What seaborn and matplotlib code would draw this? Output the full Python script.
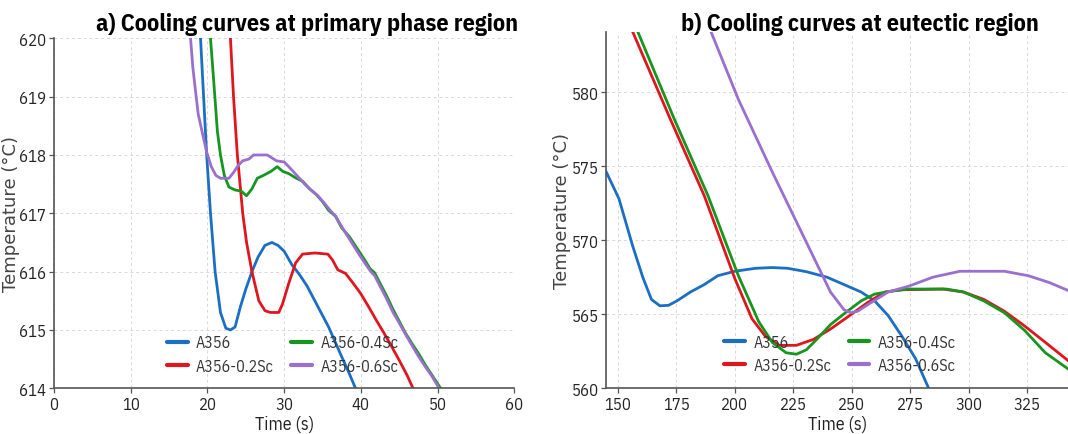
import numpy as np
import pandas as pd
import matplotlib
matplotlib.use("Agg")
import matplotlib.pyplot as plt
import seaborn as sns
from matplotlib import font_manager

# ---------------- data ----------------
series_names = ["A356", "A356-0.2Sc", "A356-0.4Sc", "A356-0.6Sc"]
series_colors = ["#1a6fc4", "#e0161e", "#17961f", "#9b6fcf"]

# Panel a) primary phase region
a_t_356 = [18.9, 19.1, 19.5, 19.9, 20.4, 21.0, 21.7, 22.4, 23.0, 23.6, 24.3, 25.0, 25.8, 26.6, 27.5, 28.4, 29.2, 30.0, 31.0, 32.0, 33.0, 34.2, 35.8, 37.3, 38.5, 39.3, 39.8]
a_T_356 = [620.6, 620.0, 619.0, 618.0, 617.0, 616.0, 615.3, 615.03, 615.0, 615.05, 615.4, 615.7, 616.0, 616.25, 616.45, 616.5, 616.45, 616.35, 616.12, 615.95, 615.75, 615.45, 615.05, 614.6, 614.25, 614.0, 613.8]

a_t_02 = [22.9, 23.0, 23.4, 23.9, 24.6, 25.1, 25.8, 26.7, 27.5, 28.2, 29.3, 29.8, 30.6, 31.5, 32.4, 34.0, 35.7, 36.3, 37.0, 38.0, 39.0, 40.0, 41.0, 42.0, 43.0, 44.0, 45.0, 46.0, 46.8, 47.2]
a_T_02 = [620.3, 620.0, 619.0, 618.0, 617.0, 616.5, 616.0, 615.5, 615.33, 615.3, 615.3, 615.45, 615.8, 616.15, 616.3, 616.32, 616.3, 616.2, 616.03, 615.97, 615.8, 615.62, 615.4, 615.17, 614.95, 614.72, 614.48, 614.23, 614.0, 613.9]

a_t_04 = [20.2, 20.4, 20.8, 21.3, 21.7, 22.2, 22.8, 23.6, 24.4, 25.1, 25.8, 26.5, 27.3, 28.3, 29.1, 29.8, 30.6, 31.6, 32.4, 33.3, 34.2, 35.0, 35.8, 36.7, 37.5, 38.5, 39.5, 40.5, 41.2, 41.8, 42.5, 43.3, 44.2, 45.0, 45.8, 46.6, 47.5, 48.4, 49.3, 50.4, 50.8]
a_T_04 = [620.5, 620.0, 619.3, 618.4, 618.0, 617.65, 617.45, 617.4, 617.38, 617.3, 617.42, 617.6, 617.65, 617.72, 617.8, 617.72, 617.68, 617.6, 617.55, 617.42, 617.32, 617.2, 617.05, 616.95, 616.75, 616.6, 616.4, 616.2, 616.05, 615.98, 615.8, 615.6, 615.35, 615.15, 614.95, 614.78, 614.6, 614.4, 614.22, 614.0, 613.9]

a_t_06 = [17.7, 17.8, 18.1, 18.4, 18.8, 19.3, 19.9, 20.5, 21.1, 21.7, 22.8, 23.4, 24.0, 24.6, 25.4, 26.0, 27.8, 28.4, 29.0, 30.0, 30.6, 31.3, 32.0, 32.7, 33.5, 34.4, 35.2, 36.0, 36.7, 37.6, 38.5, 39.5, 40.5, 41.3, 41.8, 42.5, 43.3, 44.2, 45.0, 45.8, 46.6, 47.5, 48.4, 49.3, 50.2, 50.6]
a_T_06 = [620.5, 620.0, 619.5, 619.15, 618.7, 618.4, 618.05, 617.8, 617.65, 617.6, 617.6, 617.7, 617.82, 617.9, 617.93, 618.0, 618.0, 617.95, 617.9, 617.88, 617.8, 617.7, 617.6, 617.5, 617.4, 617.3, 617.18, 617.05, 616.95, 616.75, 616.56, 616.35, 616.15, 616.0, 615.93, 615.75, 615.55, 615.3, 615.12, 614.93, 614.75, 614.55, 614.37, 614.2, 614.0, 613.9]

# Panel b) eutectic region
b_t_356 = [144.0, 145.3, 150.4, 156.3, 160.6, 164.3, 167.9, 171.6, 175.2, 181.0, 186.9, 192.7, 200.0, 208.8, 216.0, 222.6, 230.6, 239.4, 246.7, 254.0, 259.8, 265.6, 271.5, 277.3, 282.9, 284.0]
b_T_356 = [574.9, 574.5, 572.8, 569.6, 567.5, 566.0, 565.57, 565.6, 565.9, 566.5, 567.0, 567.6, 567.9, 568.1, 568.15, 568.1, 567.87, 567.5, 567.0, 566.5, 565.9, 564.9, 563.5, 562.0, 560.0, 559.6]

b_t_02 = [154.0, 156.3, 172.3, 186.9, 200.0, 207.3, 213.1, 219.0, 226.3, 233.6, 240.9, 248.1, 256.9, 264.2, 271.5, 289.0, 297.8, 306.5, 315.3, 324.0, 332.8, 342.7, 345.0]
b_T_02 = [584.9, 584.06, 578.2, 573.0, 567.4, 564.7, 563.5, 562.9, 562.9, 563.3, 564.0, 564.8, 565.8, 566.5, 566.65, 566.7, 566.5, 566.0, 565.2, 564.2, 563.1, 561.85, 561.5]

b_t_04 = [157.0, 158.5, 174.0, 188.5, 201.5, 210.2, 216.0, 221.9, 226.3, 230.6, 235.0, 240.9, 248.1, 254.0, 259.8, 268.6, 274.5, 290.5, 297.8, 306.5, 315.3, 324.0, 332.8, 342.6, 345.0]
b_T_04 = [584.6, 584.06, 578.2, 573.0, 567.6, 564.5, 563.1, 562.4, 562.3, 562.6, 563.3, 564.3, 565.2, 565.9, 566.36, 566.6, 566.7, 566.7, 566.5, 565.9, 565.1, 563.9, 562.4, 561.3, 560.8]

b_t_06 = [188.5, 189.8, 201.5, 216.0, 230.6, 240.9, 246.7, 249.6, 252.5, 258.4, 265.6, 274.5, 284.7, 296.3, 315.3, 325.5, 334.3, 342.6, 345.0]
b_T_06 = [584.5, 584.06, 579.5, 574.6, 569.85, 566.5, 565.3, 565.1, 565.2, 565.8, 566.5, 566.9, 567.5, 567.9, 567.9, 567.6, 567.15, 566.6, 566.4]

a_xticks = [0, 10, 20, 30, 40, 50, 60]
a_yticks = [614, 615, 616, 617, 618, 619, 620]
b_xticks = [150, 175, 200, 225, 250, 275, 300, 325]
b_yticks = [560, 565, 570, 575, 580]

title_a = "a) Cooling curves at primary phase region"
title_b = "b) Cooling curves at eutectic region"


def long_frame(ts, Ts):
    frames = []
    for name, t, T in zip(series_names, ts, Ts):
        frames.append(pd.DataFrame({"Time": t, "Temp": T, "Alloy": name}))
    return pd.concat(frames, ignore_index=True)


df_a = long_frame([a_t_356, a_t_02, a_t_04, a_t_06], [a_T_356, a_T_02, a_T_04, a_T_06])
df_b = long_frame([b_t_356, b_t_02, b_t_04, b_t_06], [b_T_356, b_T_02, b_T_04, b_T_06])

# ---------------- style ----------------
sns.set_theme(style="white")
names = {f.name for f in font_manager.fontManager.ttflist}
narrow = "IBM Plex Sans Condensed" if "IBM Plex Sans Condensed" in names else "DejaVu Sans"
plt.rcParams["font.family"] = [narrow, "DejaVu Sans"]

palette = dict(zip(series_names, series_colors))

fig = plt.figure(figsize=(10.68, 4.35), dpi=100)
ax_a = fig.add_axes([54 / 1068, 1 - 389.3 / 435, 460.3 / 1068, 350 / 435])
ax_b = fig.add_axes([606.3 / 1068, 1 - 389.3 / 435, 1 - 606.3 / 1068, (389.3 - 33) / 435])


def style_axes(ax, df, xlim, ylim, xt, yt, legend_x, ylab_x):
    sns.lineplot(data=df, x="Time", y="Temp", hue="Alloy", hue_order=series_names,
                 palette=palette, estimator=None, sort=False, linewidth=2.0, ax=ax)
    ax.set_xlim(*xlim)
    ax.set_ylim(*ylim)
    ax.set_xticks(xt)
    ax.set_yticks(yt)
    ax.grid(True, color="#d9d9d9", linestyle=(0, (3, 3)), linewidth=0.7)
    ax.set_axisbelow(True)
    for s in ["top", "right"]:
        ax.spines[s].set_visible(False)
    for s in ["left", "bottom"]:
        ax.spines[s].set_color("#555555")
        ax.spines[s].set_linewidth(1.2)
    ax.tick_params(axis="both", which="major", direction="out", length=3.5, width=0.9,
                   color="#555555", labelsize=12, labelcolor="#222222", pad=2,
                   bottom=True, left=True)
    ax.set_xlabel("Time (s)", fontsize=13, color="#222222", labelpad=2)
    ax.set_ylabel("Temperature (°C)", fontsize=13, color="#444444",
                  family="DejaVu Sans")
    ax.yaxis.set_label_coords(ylab_x, 0.5)
    leg = ax.legend(loc="center", bbox_to_anchor=(legend_x, 0.098), ncol=2, frameon=False,
                    fontsize=11.5, handlelength=1.3, handletextpad=0.5, columnspacing=1.1,
                    labelspacing=0.45)
    for line in leg.get_lines():
        line.set_linewidth(3)
    for txt in leg.get_texts():
        txt.set_color("#333333")


style_axes(ax_a, df_a, (0, 60), (614, 620), a_xticks, a_yticks, 0.497, -0.074)
style_axes(ax_b, df_b, (145, 342.5), (560, 584.05), b_xticks, b_yticks, 0.506, -0.076)

fig.text(307 / 1068, 1 - 25 / 435, title_a, ha="center", va="center",
         fontsize=17.3, fontweight="bold", color="black")
fig.text(860 / 1068, 1 - 25 / 435, title_b, ha="center", va="center",
         fontsize=17.3, fontweight="bold", color="black")

fig.savefig("out.png", dpi=100)
